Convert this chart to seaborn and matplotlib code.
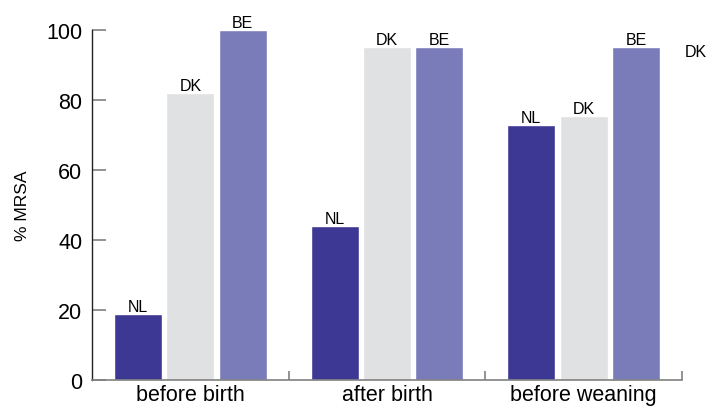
import matplotlib.pyplot as plt
import pandas as pd
import seaborn as sns

# values
periods = ["before birth", "after birth", "before weaning"]
countries = ["NL", "DK", "BE"]
nl_values = [19, 44, 73]
dk_values = [82, 95, 75.5]
be_values = [100, 95, 95]
colors = ["#3c3893", "#e0e1e3", "#7a7bb9"]

df = pd.DataFrame({
    "period": periods * 3,
    "country": [c for c in countries for _ in periods],
    "pct": nl_values + dk_values + be_values,
})

sns.set_style("white")
plt.rcParams["font.family"] = ["Liberation Sans", "DejaVu Sans"]
plt.rcParams["text.color"] = "black"
plt.rcParams["axes.labelcolor"] = "black"

fig = plt.figure(figsize=(7.14, 4.10), dpi=100)
ax = fig.add_axes([0.1289, 0.0707, 0.8263, 0.8537])

sns.barplot(
    data=df, x="period", y="pct", hue="country",
    order=periods, hue_order=countries, palette=colors,
    width=0.8, gap=0.085, saturation=1, legend=False, ax=ax,
)

# country name above every bar
for container, name in zip(ax.containers, countries):
    ax.bar_label(container, labels=[name] * len(periods), padding=0,
                 fontsize=11.5, color="black")

ax.set_xlim(-0.5, 2.5)
ax.set_ylim(0, 100)
ax.set_yticks(range(0, 101, 20))
ax.set_xlabel("")
ax.set_ylabel("% MRSA", fontsize=12.5, labelpad=12)

# boundary ticks between the groups
ax.set_xticks([0.5, 1.5, 2.5], minor=True)
ax.tick_params(axis="x", which="major", bottom=True, length=0,
               labelsize=15.5, labelcolor="black", pad=3)
ax.tick_params(axis="x", which="minor", bottom=True, direction="in",
               length=6.5, width=1.2, color="#808080")
ax.tick_params(axis="y", left=True, direction="in", length=10, width=1.2,
               color="#808080", labelsize=15.5, labelcolor="black", pad=7)

sns.despine(ax=ax)
ax.spines["left"].set_color("#222222")
ax.spines["left"].set_linewidth(1.0)
ax.spines["bottom"].set_color("#808080")
ax.spines["bottom"].set_linewidth(1.2)

# stray label at top right of the original figure
fig.text(0.959, 0.873, "DK", fontsize=11.5, ha="left", va="center")

fig.savefig("out.png", dpi=100)
